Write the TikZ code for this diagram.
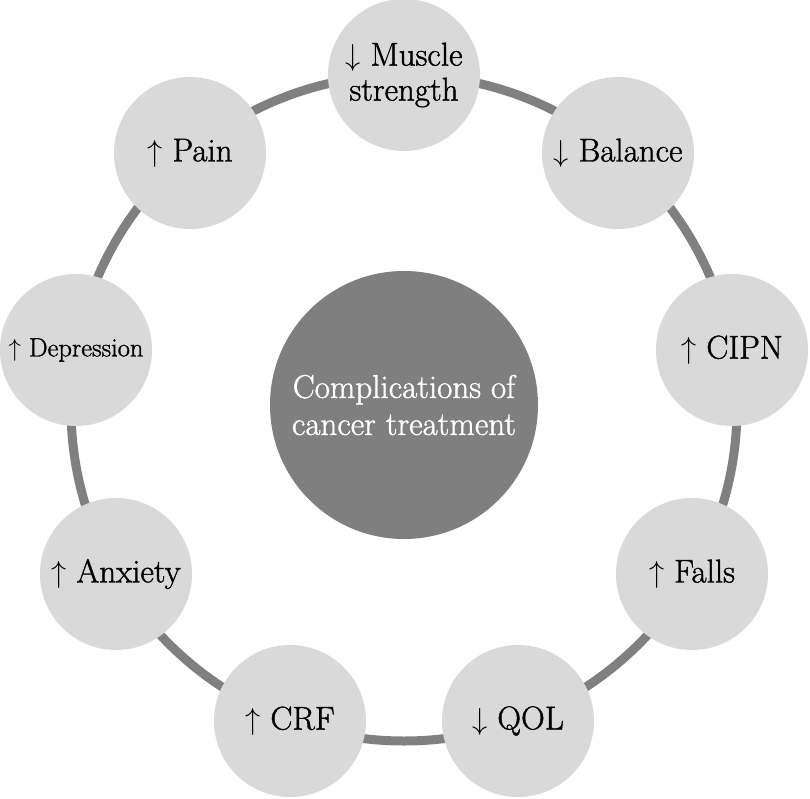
\documentclass[tikz,border=0pt]{standalone}
\usepackage{graphicx}
\usepackage{fontspec}
\newfontfamily\lblfont{Latin Modern Roman}[FakeBold=1.2]
\newcommand{\upar}[1][27pt]{\resizebox*{!}{#1}{$\uparrow$}}
\newcommand{\dnar}[1][27pt]{\resizebox*{!}{#1}{$\downarrow$}}
\definecolor{ringgray}{HTML}{808080}
\definecolor{bubble}{HTML}{D9D9D9}
\definecolor{hubgray}{HTML}{7F7F7F}
\tikzset{
  bubblenode/.style={circle, fill=bubble, minimum size=152pt, inner sep=0pt, align=center,
    font=\lblfont\fontsize{33}{35}\selectfont, text=black},
  smalltext/.style={font=\lblfont\fontsize{26.5}{28}\selectfont},
  hubnode/.style={circle, fill=hubgray, minimum size=268pt, inner sep=0pt, align=center,
    font=\lblfont\fontsize{33}{37}\selectfont, text=white},
  ringline/.style={draw=ringgray, line width=9pt}
}
\begin{document}
\begin{tikzpicture}[x=1pt,y=-1pt]
\useasboundingbox (0,0) rectangle (810,799);
\coordinate (c) at (404,408);
\draw[ringline] (c) circle[radius=333pt];
\node[hubnode] (hub) at (404,405) {Complications of\\cancer treatment};
\node[bubblenode] (muscle) at (404,75) {\dnar\ Muscle\\strength};
\node[bubblenode] (balance) at (618,153) {\dnar\ Balance};
\node[bubblenode] (cipn) at (732,350) {\upar\ CIPN};
\node[bubblenode] (falls) at (692,574) {\upar\ Falls};
\node[bubblenode] (qol) at (518,721) {\dnar\ QOL};
\node[bubblenode] (crf) at (290,721) {\upar\ CRF};
\node[bubblenode] (anxiety) at (116,574) {\upar\ Anxiety};
\node[bubblenode, smalltext] (depression) at (76,350) {\upar[22pt]\ Depression};
\node[bubblenode] (pain) at (190,153) {\upar\ Pain};
\end{tikzpicture}
\end{document}
